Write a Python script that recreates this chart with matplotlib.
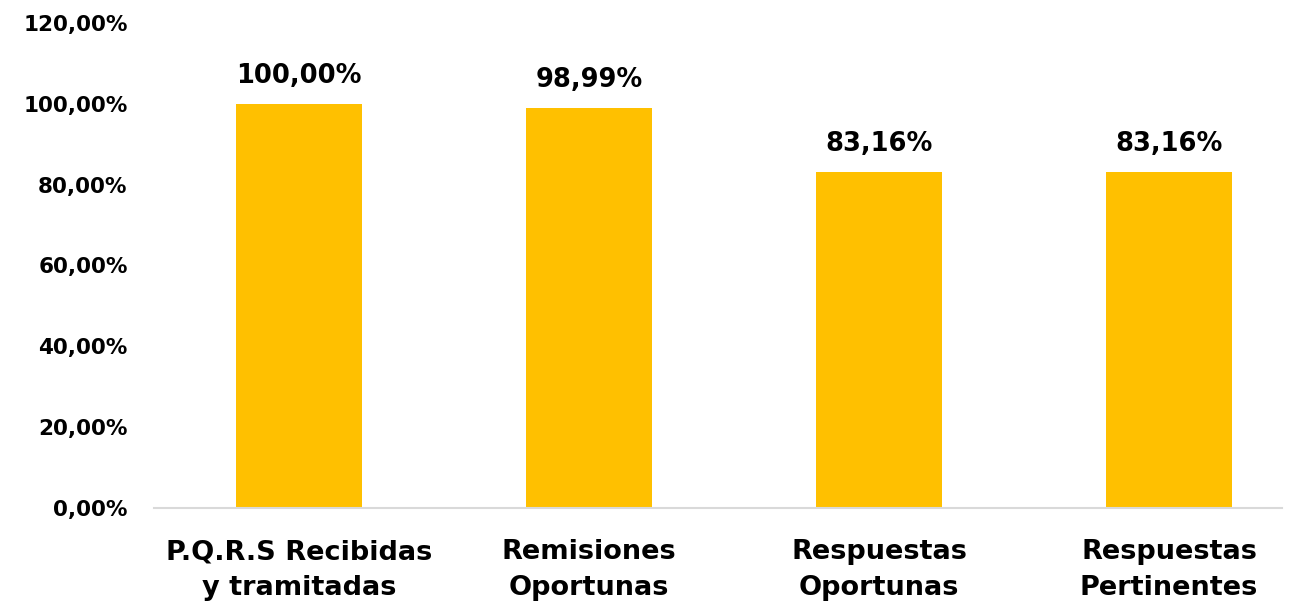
import matplotlib
matplotlib.use("Agg")
import matplotlib.pyplot as plt

categories = ["P.Q.R.S Recibidas\ny tramitadas", "Remisiones\nOportunas",
              "Respuestas\nOportunas", "Respuestas\nPertinentes"]
values = [100.00, 98.99, 83.16, 83.16]
yticks = [0, 20, 40, 60, 80, 100, 120]

def fmt(v):
    return f"{v:.2f}".replace(".", ",") + "%"

plt.rcParams['font.family'] = ['DejaVu Sans']
fig = plt.figure(figsize=(12.89, 6.09), dpi=100)
ax = fig.add_axes([154 / 1289, 1 - 508 / 609, 1128 / 1289, (508 - 23) / 609])

x = list(range(len(categories)))
ax.bar(x, values, width=126 / 290, color="#FFC000", zorder=2)
# category pitch ~290 px, axis spans 1128 px
ax.set_xlim(-(299 - 154) / 290, -(299 - 154) / 290 + 1128 / 290)
ax.set_ylim(0, 120)
ax.set_yticks(yticks)
ax.set_yticklabels([fmt(v) for v in yticks], fontsize=15.5, fontweight="bold")
ax.set_xticks(x)
ax.set_xticklabels(categories, fontsize=19.5, fontweight="bold", linespacing=1.5)
ax.tick_params(axis="both", length=0)
ax.tick_params(axis="y", pad=19)
ax.tick_params(axis="x", pad=22.5)
for s in ["top", "right", "left"]:
    ax.spines[s].set_visible(False)
ax.spines["bottom"].set_color("#D9D9D9")
ax.spines["bottom"].set_linewidth(1.5)

for xi, v in zip(x, values):
    ax.annotate(fmt(v), (xi, v), xytext=(0, 11), textcoords="offset points",
                ha="center", va="bottom", fontsize=18.5, fontweight="bold")

fig.savefig("out.png", dpi=100, facecolor="white")
